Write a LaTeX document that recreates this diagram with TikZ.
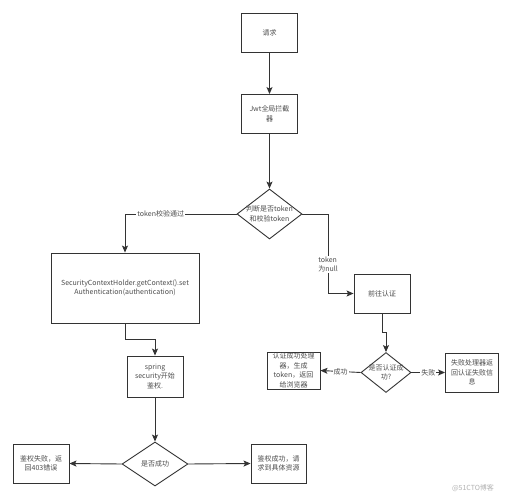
\documentclass[tikz,border=0pt]{standalone}
\usepackage{fontspec}
\setmainfont{Noto Sans CJK SC}
\usetikzlibrary{shapes.geometric,arrows.meta}
\definecolor{ln}{HTML}{333333}
\definecolor{tx}{HTML}{4D4D4D}
\tikzset{
  box/.style={draw=ln, line width=0.9pt, rectangle, inner sep=0pt, align=center, text=tx, font=\fontsize{7}{9.5}\selectfont},
  dia/.style={draw=ln, line width=0.9pt, diamond, inner sep=0pt},
  dtxt/.style={align=center, text=tx, font=\fontsize{7}{9.5}\selectfont, inner sep=0pt},
  arr/.style={draw=ln, line width=0.9pt, -{Stealth[length=7pt,width=6pt,inset=1.5pt]}},
  lbl/.style={fill=white, text=tx, font=\fontsize{7}{9}\selectfont, inner sep=1pt, align=left}
}
\begin{document}
\begin{tikzpicture}[x=1pt, y=-1pt]
\useasboundingbox (0,0) rectangle (515,500);
\fill[white] (0,0) rectangle (515,500);

\node[box, minimum width=56pt, minimum height=39pt] (req) at (269.5,32.5) {请求};
\node[box, minimum width=56pt, minimum height=39pt] (jwt) at (269.5,114) {Jwt全局拦截\\器};
\node[dia, minimum width=65pt, minimum height=50pt] (d1) at (269.5,214) {};
\node[dtxt] (d1t) at (d1) {判断是否token\\和校验token};

\node[box, minimum width=148pt, minimum height=70pt] (sch) at (125,288) {SecurityContextHolder.getContext().set\\Authentication(authentication)};
\node[box, minimum width=56pt, minimum height=41pt] (spr) at (155,376.5) {spring\\security开始\\鉴权.};
\node[dia, minimum width=66pt, minimum height=44pt] (d2) at (155,464) {};
\node[dtxt] (d2t) at (d2) {是否成功};
\node[box, minimum width=56pt, minimum height=39pt] (f403) at (41,463.5) {鉴权失败，返\\回403错误};
\node[box, minimum width=55pt, minimum height=39pt] (ok) at (278.5,463.5) {鉴权成功，请\\求到具体资源};

\node[box, minimum width=56pt, minimum height=39pt] (go) at (382,293.5) {前往认证};
\node[dia, minimum width=50pt, minimum height=40pt] (d3) at (386,372.5) {};
\node[dtxt] (d3t) at (d3) {是否认证成\\功?};
\node[box, minimum width=53pt, minimum height=37pt] (aok) at (293.5,370.5) {认证成功处理\\器，生成\\token，返回\\给浏览器};
\node[box, minimum width=53pt, minimum height=39pt] (afail) at (472,372.5) {失败处理器返\\回认证失败信\\息};

\coordinate (c1) at (328,293.5);

\draw[arr] (req.south) -- (jwt.north);
\draw[arr] (jwt.south) -- (d1.north);
\draw[arr] (d1.west) -| node[lbl, pos=0.34] (l1) {token校验通过} (sch.north);
\draw[arr] (d1.east) -| node[lbl, pos=0.82] (l2) {token\\为null} (c1) -- (go.west);
\draw[arr] (sch.south) -- ++(0,16) -| (spr.north);
\draw[arr] (spr.south) -- (d2.north);
\draw[arr] (d2.west) -- (f403.east);
\draw[arr] (d2.east) -- (ok.west);
\draw[arr] (go.south) -- ++(0,19) -| (d3.north);
\draw[arr] (d3.west) -- node[lbl] (l3) {成功} (aok.east);
\draw[arr] (d3.east) -- node[lbl] (l4) {失败} (afail.west);

\node[text=gray!60, font=\fontsize{7}{8}\selectfont, inner sep=0pt] (wm) at (473,488) {@51CTO博客};
\end{tikzpicture}
\end{document}
